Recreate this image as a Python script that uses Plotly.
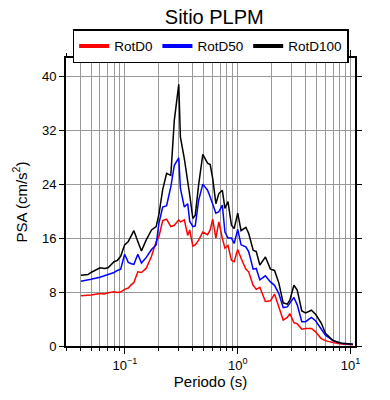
import plotly.graph_objects as go

periods = [0.0407, 0.047, 0.050, 0.060, 0.066, 0.0708, 0.080, 0.0857, 0.0916, 0.0993,
           0.107, 0.114, 0.120, 0.130, 0.140, 0.154, 0.172, 0.189, 0.200, 0.216,
           0.234, 0.255, 0.274, 0.300, 0.310, 0.336, 0.360, 0.375, 0.400, 0.420,
           0.450, 0.490, 0.540, 0.570, 0.600, 0.640, 0.680, 0.730, 0.770, 0.820,
           0.880, 0.930, 1.00, 1.07, 1.18, 1.25, 1.37, 1.46, 1.57, 1.76,
           1.95, 2.12, 2.31, 2.53, 2.75, 2.90, 3.15, 3.37, 3.70, 4.00,
           4.50, 4.90, 5.50, 6.00, 7.00, 8.30, 10.5]

rotd100 = [10.5, 10.6, 10.9, 11.6, 11.5, 11.6, 12.5, 12.7, 13.3, 15.0,
           15.5, 16.3, 17.1, 15.5, 14.1, 15.7, 17.2, 17.7, 19.5, 23.2,
           25.6, 25.3, 33.5, 38.8, 31.0, 27.8, 23.9, 22.4, 18.9, 19.4,
           23.9, 28.4, 27.1, 26.9, 24.8, 21.1, 22.6, 23.1, 20.4, 21.4,
           17.9, 17.4, 19.7, 17.1, 17.6, 16.7, 14.2, 14.0, 12.0, 13.2,
           11.4, 11.2, 9.4, 6.4, 6.2, 6.8, 9.0, 8.3, 5.2, 4.9,
           5.3, 4.7, 3.4, 1.9, 0.8, 0.4, 0.25]

rotd50 = [9.6, 9.75, 9.9, 10.2, 10.4, 10.6, 10.9, 11.2, 11.4, 13.6,
          12.4, 12.2, 12.1, 13.6, 12.3, 13.1, 14.3, 15.0, 18.2, 20.6,
          20.8, 23.6, 26.8, 27.9, 23.4, 20.6, 21.1, 18.5, 17.7, 17.8,
          21.6, 24.0, 23.1, 22.1, 21.0, 19.7, 19.9, 20.9, 16.9, 16.0,
          16.0, 15.2, 17.3, 15.0, 14.7, 14.0, 11.4, 11.5, 9.8, 10.4,
          9.5, 9.0, 7.8, 5.7, 5.8, 6.3, 7.2, 6.1, 3.6, 3.6,
          4.25, 3.75, 2.6, 1.6, 0.8, 0.4, 0.25]

rotd0 = [7.45, 7.45, 7.55, 7.8, 7.7, 7.9, 8.05, 7.95, 8.0, 8.4,
         8.6, 9.1, 9.4, 11.0, 10.9, 11.5, 13.3, 15.5, 16.2, 18.6,
         18.8, 17.7, 17.9, 18.7, 18.4, 18.7, 16.4, 17.2, 14.8, 15.0,
         15.7, 16.9, 16.5, 17.2, 18.8, 16.0, 18.4, 16.0, 14.5, 14.9,
         12.7, 12.5, 14.3, 13.0, 11.4, 11.0, 9.0, 8.4, 8.7, 6.6,
         6.7, 7.7, 5.8, 3.85, 4.25, 4.8, 3.45, 3.3, 2.5, 2.6,
         2.6, 2.1, 1.1, 0.8, 0.5, 0.3, 0.2]

series_names = ["RotD0", "RotD50", "RotD100"]
series_colors = ["#ff0000", "#0000ff", "#000000"]
series_values = [rotd0, rotd50, rotd100]

x_major = [0.1, 1, 10]
x_major_text = ["10<sup>−1</sup>", "10<sup>0</sup>", "10<sup>1</sup>"]
x_minor = [0.03, 0.04, 0.05, 0.06, 0.07, 0.08, 0.09,
           0.2, 0.3, 0.4, 0.5, 0.6, 0.7, 0.8, 0.9,
           2, 3, 4, 5, 6, 7, 8, 9]
y_ticks = [0, 8, 16, 24, 32, 40]

FONT = "Liberation Sans, Arial, sans-serif"

fig = go.Figure()
for name, color, vals in zip(series_names, series_colors, series_values):
    fig.add_trace(go.Scatter(x=periods, y=vals, mode="lines", name=name,
                             line=dict(color=color, width=1.5), showlegend=False))
# legend entries with thicker line samples
for name, color in zip(series_names, series_colors):
    fig.add_trace(go.Scatter(x=[None], y=[None], mode="lines", name=name,
                             line=dict(color=color, width=4), showlegend=True))

# page body has an 8 px margin, so the figure is 8 px smaller and shifted
fig.update_layout(
    width=382, height=392,
    margin=dict(l=58, r=35, t=50, b=54, autoexpand=False),
    paper_bgcolor="white", plot_bgcolor="white",
    font=dict(family=FONT, color="black", size=13),
    title=dict(text="Sitio PLPM", x=0.54, xanchor="center",
               y=1 - 2 / 392, yanchor="top", pad=dict(t=0, b=0),
               font=dict(size=20, color="black")),
    showlegend=True,
    legend=dict(orientation="h", x=0.023, xanchor="left", y=1.1, yanchor="top",
                bordercolor="black", borderwidth=1.5, bgcolor="white",
                font=dict(size=13.5), itemwidth=30, tracegroupgap=0),
)

fig.update_xaxes(
    type="log", range=[-1.523, 1.04], automargin=False,
    tickvals=x_major, ticktext=x_major_text,
    ticks="outside", ticklen=6, tickwidth=1, tickcolor="black",
    showgrid=True, gridcolor="#999999", gridwidth=0.8,
    showline=True, linecolor="black", linewidth=2, mirror="ticks",
    zeroline=False,
    minor=dict(tickvals=x_minor, ticks="outside", ticklen=3, tickcolor="black",
               showgrid=True, gridcolor="#999999", gridwidth=0.8),
    title=dict(text="Periodo (s)", font=dict(size=15), standoff=4),
    tickfont=dict(size=13),
)
fig.update_yaxes(
    range=[0, 42.7], tickvals=y_ticks, automargin=False,
    ticks="outside", ticklen=5, tickwidth=1, tickcolor="black",
    showgrid=True, gridcolor="#999999", gridwidth=0.8,
    showline=True, linecolor="black", linewidth=2, mirror="ticks",
    zeroline=False,
    title=dict(text="PSA (cm/s<sup>2</sup>)", font=dict(size=15), standoff=11),
    tickfont=dict(size=13),
)

fig.write_html("out.html")
